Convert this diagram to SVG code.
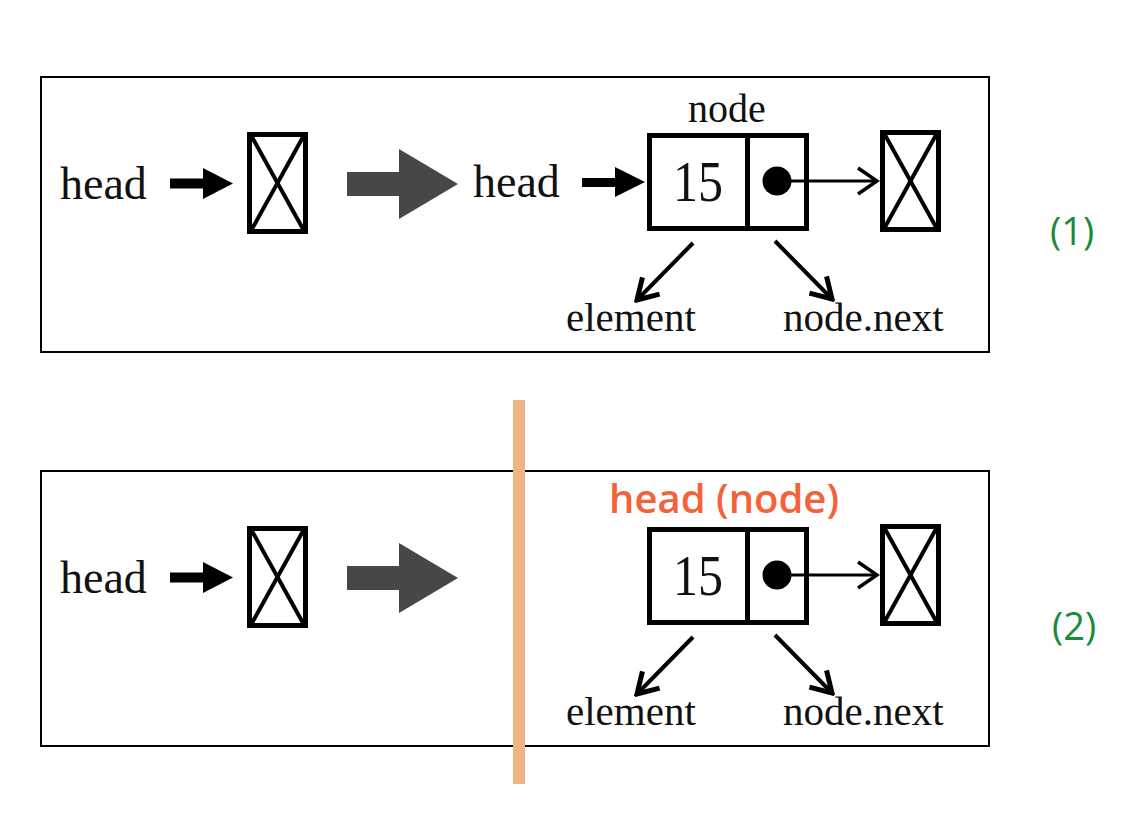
<svg xmlns="http://www.w3.org/2000/svg" width="1140" height="828" viewBox="0 0 1140 828">
<style>
.frame{fill:none;stroke:#000;stroke-width:2}
.box{fill:#fff;stroke:#000;stroke-width:5}
.xl{stroke:#000;stroke-width:4}
.serif{font-family:"Liberation Serif","Times New Roman",serif;fill:#111}
.lbl{font-size:46px}
.sm{font-size:40px}
.lb2{font-size:41px}
.num{font-size:57px}
.ptr{stroke:#000;stroke-width:3;fill:none}
.diag{stroke:#000;stroke-width:4;fill:none}
.big{fill:#474747}
.blk{fill:#000}
.green{font-family:"Open Sans","Noto Sans",sans-serif;font-size:38px;font-weight:500;fill:#1a8b3c}
.red{font-family:"Open Sans","Noto Sans",sans-serif;font-size:40px;font-weight:600;fill:#f4623a}
</style>
<defs>
<marker id="vee" viewBox="0 0 26 30" refX="23" refY="15" markerWidth="26" markerHeight="30" markerUnits="userSpaceOnUse" orient="auto">
<path d="M3,3 L23,15 L3,27" fill="none" stroke="#000" stroke-width="5"/>
</marker>
<marker id="vee2" viewBox="0 0 24 30" refX="21" refY="15" markerWidth="24" markerHeight="30" markerUnits="userSpaceOnUse" orient="auto">
<path d="M2,2 L21,15 L2,28" fill="none" stroke="#000" stroke-width="3.5"/>
</marker>
</defs>
<rect width="1140" height="828" fill="#fff"/>

<!-- Panel 1 -->
<g id="panel1">
<rect class="frame" x="41" y="77" width="948" height="275"/>
</g>
<g id="head1-label"><text class="serif lbl" x="60" y="199">head</text></g>
<g id="null1">
<rect class="box" x="249.5" y="134.5" width="56" height="97"/>
<line class="xl" x1="252" y1="137" x2="303" y2="229"/>
<line class="xl" x1="303" y1="137" x2="252" y2="229"/>
</g>
<g id="head2-label"><text class="serif lbl" x="473" y="197">head</text></g>
<g id="node1">
<text class="serif sm" x="727" y="122" text-anchor="middle">node</text>
<rect class="box" x="649.5" y="135.5" width="157" height="93"/>
<line x1="747.5" y1="135.5" x2="747.5" y2="228.5" stroke="#000" stroke-width="5"/>
<text class="serif num" x="698" y="201" text-anchor="middle" textLength="50" lengthAdjust="spacingAndGlyphs">15</text>
<circle cx="777" cy="181" r="14.5" fill="#000"/>
</g>
<g id="null2">
<rect class="box" x="882.5" y="132.5" width="56" height="97"/>
<line class="xl" x1="885" y1="135" x2="936" y2="227"/>
<line class="xl" x1="936" y1="135" x2="885" y2="227"/>
</g>
<g id="element1"><text class="serif lb2" x="566" y="331">element</text></g>
<g id="next1"><text class="serif lb2" x="783" y="331">node.next</text></g>
<g id="tag1"><text class="green" x="1050" y="245">(1)</text></g>

<!-- Panel 2 -->
<g id="panel2">
<rect class="frame" x="41" y="471" width="948" height="275"/>
</g>
<g id="head3-label"><text class="serif lbl" x="60" y="593">head</text></g>
<g id="null3">
<rect class="box" x="249.5" y="528.5" width="56" height="97"/>
<line class="xl" x1="252" y1="531" x2="303" y2="623"/>
<line class="xl" x1="303" y1="531" x2="252" y2="623"/>
</g>
<g id="node2">
<text class="red" x="609" y="513">head (node)</text>
<rect class="box" x="649.5" y="529.5" width="157" height="93"/>
<line x1="747.5" y1="529.5" x2="747.5" y2="622.5" stroke="#000" stroke-width="5"/>
<text class="serif num" x="698" y="595" text-anchor="middle" textLength="50" lengthAdjust="spacingAndGlyphs">15</text>
<circle cx="777" cy="575" r="14.5" fill="#000"/>
</g>
<g id="null4">
<rect class="box" x="882.5" y="526.5" width="56" height="97"/>
<line class="xl" x1="885" y1="529" x2="936" y2="621"/>
<line class="xl" x1="936" y1="529" x2="885" y2="621"/>
</g>
<g id="element2"><text class="serif lb2" x="566" y="725">element</text></g>
<g id="next2"><text class="serif lb2" x="783" y="725">node.next</text></g>
<g id="tag2"><text class="green" x="1052" y="640">(2)</text></g>

<g id="divider">
<rect x="513" y="400" width="12" height="384" fill="#f2b382"/>
</g>

<g id="connectors">
<path class="blk" d="M170,178.5 L203,178.5 L203,168 L233,183.5 L203,199 L203,188.5 L170,188.5 Z"/>
<path class="big" d="M347,172 L399,172 L399,149 L458,184 L399,219 L399,196 L347,196 Z"/>
<path class="blk" d="M582,178 L615,178 L615,167 L645,182 L615,197 L615,187 L582,187 Z"/>
<line class="ptr" x1="777" y1="181" x2="877" y2="181" marker-end="url(#vee2)"/>
<line class="diag" x1="693" y1="243" x2="637" y2="300" marker-end="url(#vee)"/>
<line class="diag" x1="775" y1="241" x2="832" y2="299" marker-end="url(#vee)"/>

<path class="blk" d="M170,572.5 L203,572.5 L203,562 L233,577.5 L203,593 L203,582.5 L170,582.5 Z"/>
<path class="big" d="M347,566 L399,566 L399,543 L458,578 L399,613 L399,590 L347,590 Z"/>
<line class="ptr" x1="777" y1="575" x2="877" y2="575" marker-end="url(#vee2)"/>
<line class="diag" x1="693" y1="637" x2="637" y2="694" marker-end="url(#vee)"/>
<line class="diag" x1="775" y1="635" x2="832" y2="693" marker-end="url(#vee)"/>
</g>
</svg>
